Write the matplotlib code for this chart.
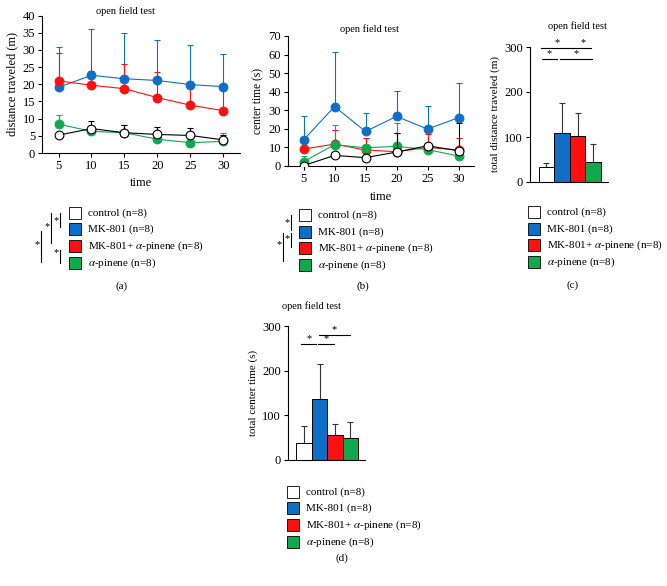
import matplotlib
matplotlib.use("Agg")
import matplotlib.pyplot as plt
from matplotlib.patches import Rectangle
from matplotlib.lines import Line2D

plt.rcParams["font.family"] = ["Liberation Serif", "DejaVu Serif"]
plt.rcParams["mathtext.fontset"] = "stix"

W, H = 667, 586

groups = ["control (n=8)", "MK-801 (n=8)", r"MK-801+ $\alpha$-pinene (n=8)", r"$\alpha$-pinene (n=8)"]
colors = ["white", "#0f6fc6", "#ff1010", "#12a84e"]
time = [5, 10, 15, 20, 25, 30]

# (a) distance traveled per block: means and upper error tops
dist_mean = {
    "control": [5.2, 7.1, 5.9, 5.4, 5.1, 3.8],
    "mk801": [19.1, 22.6, 21.6, 21.1, 19.9, 19.3],
    "mk801_pinene": [21.0, 19.7, 18.7, 16.1, 13.9, 12.3],
    "pinene": [8.4, 6.3, 5.9, 4.0, 3.0, 3.4],
}
dist_top = {
    "control": [5.2, 9.4, 8.1, 7.7, 7.4, 5.2],
    "mk801": [30.9, 36.0, 35.0, 33.0, 31.3, 28.8],
    "mk801_pinene": [29.2, 23.9, 25.8, 23.6, 20.5, 19.5],
    "pinene": [11.0, 6.3, 8.1, 4.0, 3.0, 5.8],
}

# (b) center time per block
center_mean = {
    "control": [0.2, 5.7, 4.5, 7.5, 10.9, 8.2],
    "mk801": [14.0, 32.0, 18.6, 26.7, 19.9, 26.0],
    "mk801_pinene": [9.1, 11.8, 8.6, 7.7, 10.0, 8.6],
    "pinene": [2.3, 11.5, 9.8, 10.6, 8.8, 5.4],
}
center_top = {
    "control": [0.2, 5.7, 4.5, 17.6, 10.9, 23.0],
    "mk801": [26.7, 61.6, 28.5, 40.4, 32.5, 44.5],
    "mk801_pinene": [9.1, 19.5, 15.0, 17.7, 17.2, 14.9],
    "pinene": [5.2, 22.2, 9.8, 23.0, 8.8, 5.4],
}

# (c) total distance, (d) total center time
total_dist = [33, 109, 102, 44]
total_dist_top = [42, 175, 153, 84]
total_center = [37, 137, 56, 49]
total_center_top = [77, 215, 81, 85]

FS = 7.5
TICK_FS = 9


def px_axes(fig, left, top, right, bottom):
    return fig.add_axes([left / W, 1 - bottom / H, (right - left) / W, (bottom - top) / H])


def style(ax):
    for s in ["top", "right"]:
        ax.spines[s].set_visible(False)
    for s in ["left", "bottom"]:
        ax.spines[s].set_linewidth(0.8)
    ax.tick_params(labelsize=TICK_FS, length=3, width=0.8, direction="out", pad=2)


def line_panel(ax, means, tops, ylim, yticks, ylabel, ylabel_fs):
    keys = ["mk801", "mk801_pinene", "pinene", "control"]
    cols = {"control": "black", "mk801": colors[1], "mk801_pinene": colors[2], "pinene": colors[3]}
    for k in keys:
        up = [t - m for t, m in zip(tops[k], means[k])]
        c = cols[k]
        face = "white" if k == "control" else c
        ax.errorbar(time, means[k], yerr=[[0] * len(up), up], color=c, lw=0.8,
                    elinewidth=0.8, capsize=2.5, capthick=0.8, marker="o", ms=6.3,
                    mfc=face, mec=c, mew=0.8, zorder=3 if k != "control" else 4)
    ax.set_xlim(2.5, 32.5)
    ax.set_ylim(*ylim)
    ax.set_yticks(yticks)
    ax.set_xticks(time)
    ax.set_xlabel("time", fontsize=9, labelpad=4)
    ax.set_ylabel(ylabel, fontsize=ylabel_fs, labelpad=3)
    style(ax)


def bar_panel(ax, vals, tops, ylabel, sig):
    x = [0, 1, 2, 3]
    up = [t - v for t, v in zip(tops, vals)]
    ax.bar(x, vals, width=1.0, color=colors, edgecolor="black", linewidth=0.7, zorder=2)
    ax.errorbar(x, vals, yerr=[[0] * 4, up], fmt="none", ecolor="#333333",
                elinewidth=0.8, capsize=2.5, capthick=0.8, zorder=1)
    ax.set_xlim(-1.05, 3.95)
    ax.set_ylim(0, 300)
    ax.set_yticks([0, 100, 200, 300])
    ax.set_xticks([])
    ax.set_ylabel(ylabel, fontsize=8, labelpad=3)
    style(ax)
    for x0, x1, y in sig:
        ax.plot([x0, x1], [y, y], color="black", lw=0.8, clip_on=False)
        ax.text((x0 + x1) / 2, y + 1, "*", ha="center", va="bottom", fontsize=FS, clip_on=False)


def legend(fig, x, y0, dy=16.7):
    for i, (g, c) in enumerate(zip(groups, colors)):
        y = y0 + i * dy
        fig.add_artist(Rectangle((x / W, 1 - (y + 6) / H), 12 / W, 12 / H,
                                 transform=fig.transFigure, facecolor=c,
                                 edgecolor="black", linewidth=0.6))
        fig.text((x + 19) / W, 1 - y / H, g, fontsize=FS + 0.5, va="center", ha="left")


def bracket(fig, x, y0, y1, sx, sy):
    fig.add_artist(Line2D([x / W, x / W], [1 - y0 / H, 1 - y1 / H],
                          transform=fig.transFigure, color="black", lw=0.8))
    fig.text(sx / W, 1 - sy / H, "*", fontsize=FS, ha="center", va="center")


fig = plt.figure(figsize=(W / 100, H / 100), dpi=100)

ax_a = px_axes(fig, 42, 15.5, 240, 153)
line_panel(ax_a, dist_mean, dist_top, (0, 40), range(0, 41, 5), "distance traveled (m)", 8.8)
fig.text(126 / W, 1 - 11 / H, "open field test", fontsize=FS, ha="center", va="center")

ax_b = px_axes(fig, 288, 36, 474, 166)
line_panel(ax_b, center_mean, center_top, (0, 70), range(0, 71, 10), "center time (s)", 8.3)
fig.text(369 / W, 1 - 29 / H, "open field test", fontsize=FS, ha="center", va="center")

ax_c = px_axes(fig, 530, 47, 608, 182)
bar_panel(ax_c, total_dist, total_dist_top, "total distance traveled (m)",
          [(-0.35, 1.7, 298), (1.8, 2.85, 298), (-0.3, 0.7, 274), (0.85, 2.9, 274)])
fig.text(577 / W, 1 - 26 / H, "open field test", fontsize=FS, ha="center", va="center")

ax_d = px_axes(fig, 288, 326, 365, 460)
bar_panel(ax_d, total_center, total_center_top, "total center time (s)",
          [(0.95, 2.95, 280), (-0.2, 0.8, 260), (0.9, 1.95, 260)])
fig.text(311 / W, 1 - 306 / H, "open field test", fontsize=FS, ha="center", va="center")

legend(fig, 69, 212.7)
bracket(fig, 60, 212.7, 227, 56.5, 221)
bracket(fig, 51, 212.7, 243, 47.5, 227)
bracket(fig, 60, 250, 262.7, 56.5, 253)
bracket(fig, 41, 230.7, 262.3, 37, 245)

legend(fig, 299, 215)
bracket(fig, 291, 215, 230, 287.3, 223)
bracket(fig, 291, 232.7, 246.7, 287.3, 239)
bracket(fig, 282.7, 232.7, 261, 279, 245)

legend(fig, 528, 212)
legend(fig, 287, 491.7)

fig.text(121.7 / W, 1 - 285.7 / H, "(a)", fontsize=FS + 0.5, ha="center", va="center")
fig.text(363 / W, 1 - 285.7 / H, "(b)", fontsize=FS + 0.5, ha="center", va="center")
fig.text(573 / W, 1 - 285 / H, "(c)", fontsize=FS + 0.5, ha="center", va="center")
fig.text(341.7 / W, 1 - 558 / H, "(d)", fontsize=FS + 0.5, ha="center", va="center")

fig.savefig("out.png", dpi=100)
plt.close(fig)
